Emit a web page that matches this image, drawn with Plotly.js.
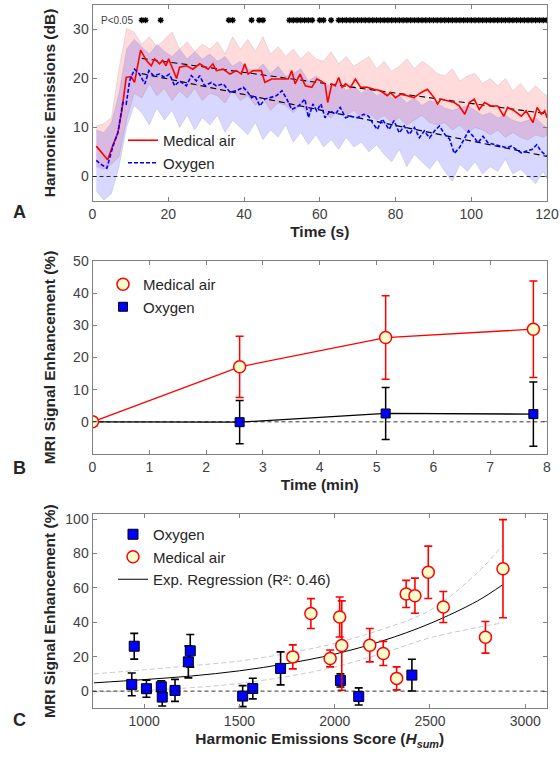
<!DOCTYPE html>
<html><head><meta charset="utf-8">
<script src="https://cdn.plot.ly/plotly-3.0.1.min.js"></script>
<style>html,body{margin:0;padding:0;background:#fff}#chart{width:560px;height:758px}</style>
</head><body><div id="chart"></div>
<script>
// ---------------- Panel A data ----------------
const RED_T = [1,2,3,4,5.3,6.7,7.8,8.9,10.2,11.1,12.7,14.2,15.5,16.4,17.7,18.5,19.4,20.1,22.2,23,24.8,26.5,28.3,30.5,31.8,32.7,34.5,36.3,38,39.3,40.2,41.1,42.4,44.6,45.5,47.3,49.5,51.7,52.6,53.5,54.8,56.2,57.9,59.2,60.3,61.4,62.1,63.2,64.1,65,65.9,66.8,68.1,69.4,70.8,72.5,74.3,76.1,77.8,78.7,80,81.4,83.1,84.9,86.7,88.4,90.2,91.1,92,93.7,95.5,96.8,98.3,99.5,100.8,102.1,103.5,105.2,107,108.6,109.6,111.4,113.2,114.5,116.3,117.4,118.5,119.4,120];
const RED_V = [6.2,5.3,4.3,3.4,6.2,8.9,13.7,20.2,20.4,19.2,25.8,23.7,22.6,24.0,23.0,23.7,22.6,24.0,20.0,22.3,22.6,21.9,23.0,21.9,23.0,21.6,21.9,20.9,21.6,20.9,23.0,20.9,21.6,21.6,19.2,19.9,19.9,19.9,21.6,18.9,20.9,18.5,18.2,19.9,19.5,18.9,15.1,18.9,18.5,20.2,18.2,18.9,18.2,19.9,18.2,18.2,17.8,17.5,16.5,17.1,16.1,16.8,16.5,16.1,17.1,17.8,16.1,14.8,15.8,15.5,15.1,14.4,12.7,15.1,15.8,13.7,15.1,14.4,14.4,12.3,14.1,13.4,12.3,13.4,11.0,14.1,12.7,13.4,12.0];
const BLUE_T = [1,2,3.8,5.4,6.7,8,8.9,9.8,11.1,12.4,13.8,14.9,16.1,17.7,19,20.3,21.7,23,24.8,26.1,27.4,28.3,29.6,31.4,32.7,34.5,36.3,38,39.8,40.7,42,42.9,44.2,45.5,46.9,48.6,50,51.3,52.6,54.4,56.1,57,58.2,59.2,60.3,61.4,62.8,64.1,65.4,66.8,68.1,69.9,71.6,72.9,73.9,75.2,76.5,78.3,79.6,81,82.3,83.6,85,86.3,87.6,89,90.3,91.6,93,94.3,95.5,96.9,98.3,99.3,100.5,101.8,103.1,104.4,106.2,108,109.3,110.6,112,113.3,114.6,116,117.3,118.4,120];
const BLUE_V = [3.3,2.6,1.7,6.2,8.9,15.1,14.8,19.5,21.9,20.9,18.9,21.6,20.6,20.9,20.2,20.9,18.5,19.5,18.5,20.6,19.5,20.6,18.5,19.2,18.5,18.9,17.2,17.5,18.2,17.5,16.1,16.5,14.4,15.8,16.1,16.5,17.5,15.8,13.7,14.4,15.8,12.0,14.8,13.4,14.8,12.0,13.4,12.7,14.1,12.0,12.3,12.0,12.7,12.3,11.0,9.6,11.7,9.6,11.4,8.9,10.3,8.6,10.0,7.9,9.3,7.9,9.3,10.3,8.6,7.6,4.7,5.9,7.9,9.3,8.2,6.9,8.2,6.9,6.5,6.2,5.9,6.2,5.5,4.8,5.2,5.5,6.5,5.2,4.1];
const BAND_T = [1,3,5,7,9,11,13,15,17,19,21,23,25,27,29,31,33,35,37,39,41,43,45,47,49,51,53,55,57,59,61,63,65,67,69,71,73,75,77,79,81,83,85,87,89,91,93,95,97,99,101,103,105,107,109,111,113,115,117,119,120];
const RED_UP = [10.3,10.8,12.0,22.0,30.2,29.5,27.0,28.5,26.5,28.0,29.5,26.0,27.5,25.5,27.0,26.0,27.5,25.0,28.5,26.0,28.0,25.5,28.5,25.0,26.5,24.5,26.0,24.0,25.5,24.0,23.5,25.5,23.0,24.5,22.5,23.5,24.5,22.0,23.5,21.5,22.5,24.0,22.0,23.5,22.5,21.0,20.5,22.0,19.5,20.5,21.0,19.0,20.0,18.5,20.0,17.5,19.0,17.0,18.5,17.0,16.5];
const RED_LO = [2.0,1.5,2.5,4.0,11.5,17.0,16.0,19.0,16.5,18.0,15.5,17.5,16.0,18.0,15.5,17.0,16.5,15.0,17.5,15.5,16.5,14.5,16.0,13.5,15.0,14.5,13.0,15.0,12.5,14.5,13.0,12.0,14.0,12.5,13.5,12.0,13.0,11.5,12.5,11.0,12.0,10.5,11.5,12.5,11.0,10.5,11.0,9.5,10.5,9.0,10.0,9.5,8.5,9.5,8.0,9.0,8.0,7.5,8.5,8.0,8.5];
const BLUE_UP = [9.5,9.0,11.0,17.0,26.0,28.0,26.5,25.0,27.0,25.5,24.5,26.0,24.0,25.5,24.0,25.0,23.5,24.5,22.5,23.5,22.0,21.5,23.0,21.0,22.5,20.5,21.0,22.0,19.5,20.5,19.0,18.5,19.5,17.5,18.5,17.0,18.0,16.5,17.5,16.0,16.5,15.0,16.0,14.5,15.5,15.0,14.0,13.5,14.0,14.5,13.5,12.5,13.0,12.0,12.5,11.5,11.0,11.5,12.0,10.5,10.0];
const BLUE_LO = [-3.0,-4.8,-3.5,2.0,10.0,14.5,13.0,10.5,14.0,11.5,13.5,10.0,12.5,9.5,12.0,10.5,12.5,9.0,11.5,10.0,8.5,11.0,7.5,9.5,8.0,10.5,7.0,9.0,6.5,8.5,6.0,7.5,5.5,8.0,6.0,7.0,5.0,6.5,4.5,3.0,5.5,2.0,4.5,3.0,1.5,3.5,1.0,-1.0,2.5,1.0,3.0,0.5,2.0,1.0,3.5,0.5,1.5,0.0,-1.5,1.0,-0.5];
const TREND_T = [13,120];
const RED_TREND = [24.1,12.8];
const BLUE_TREND = [21.0,4.1];
const STAR_T = [13,14,18,36,37,42,44,45,52,53,54,55,56,57,58,60,61,63,65,66,67,68,69,70,71,72,73,74,75,76,77,78,79,80,81,82,83,84,85,86,87,88,89,90,91,92,93,94,95,96,97,98,99,100,101,102,103,104,105,106,107,108,109,110,111,112,113,114,115,116,117,118,119,120];

// ---------------- Panel B data ----------------
const B_TIME = [0,2.59,5.16,7.76];
const B_AIR = [0,17.1,26.2,28.8];
const B_AIR_ERR = [0,9.5,13.0,15.0];
const B_O2 = [0,-0.1,2.6,2.4];
const B_O2_ERR = [0,6.7,8.1,10.0];

// ---------------- Panel C data ----------------
const C_O2_X = [935,948,1012,1090,1095,1162,1232,1242,1517,1570,1716,2030,2126,2405];
const C_O2_Y = [3.9,26.1,1.4,2.5,-3.5,0.4,17.0,23.4,-2.9,1.5,13.2,6.2,-3.1,9.3];
const C_O2_ERR = [6.6,7.5,5.0,3.5,5.2,6.4,9.3,9.5,6.1,6.0,9.6,3.8,5.0,9.2];
const C_AIR_X = [1780,1875,1976,2026,2037,2184,2255,2325,2375,2421,2491,2570,2791,2883];
const C_AIR_Y = [19.9,45.1,19.0,43.1,26.5,26.7,21.9,7.4,56.5,55.5,69.1,48.9,31.3,71.2];
const C_AIR_ERR = [7.0,8.7,4.9,11.6,26.0,9.7,7.0,6.7,7.9,10.2,15.2,9.0,9.2,28.5];
const REG_X = [736,1000,1250,1500,1750,2000,2250,2500,2750,2882];
const REG_Y = [4.8,6.7,8.8,11.8,16.0,21.5,29.2,39.3,52.5,61.9];
const CI_UP = [10.0,12.4,14.8,17.5,22.0,27.8,36.0,47.0,69.0,85.0];
const CI_LO = [-0.5,0.5,2.0,4.5,8.5,14.0,22.0,31.0,37.0,39.7];

// ---------------- build ----------------
const FONT = '"Liberation Sans", Arial, Helvetica, sans-serif';
const TXT = '#262626';
function bandPoly(t, up, lo){ return {x: t.concat(t.slice().reverse()), y: up.concat(lo.slice().reverse())}; }
const rb = bandPoly(BAND_T, RED_UP, RED_LO);
const bb = bandPoly(BAND_T, BLUE_UP, BLUE_LO);

const traces = [
  {type:'scatter', mode:'lines', x:rb.x, y:rb.y, fill:'toself', fillcolor:'rgba(255,40,40,0.17)', line:{color:'rgba(140,140,140,0.35)', width:0.6}, hoverinfo:'skip', showlegend:false, xaxis:'x', yaxis:'y'},
  {type:'scatter', mode:'lines', x:bb.x, y:bb.y, fill:'toself', fillcolor:'rgba(40,40,255,0.19)', line:{color:'rgba(140,140,140,0.35)', width:0.6}, hoverinfo:'skip', showlegend:false, xaxis:'x', yaxis:'y'},
  {type:'scatter', mode:'lines', x:TREND_T, y:RED_TREND, line:{color:'#000', width:1.1, dash:'6px,4px'}, showlegend:false, xaxis:'x', yaxis:'y'},
  {type:'scatter', mode:'lines', x:TREND_T, y:BLUE_TREND, line:{color:'#000', width:1.1, dash:'6px,4px'}, showlegend:false, xaxis:'x', yaxis:'y'},
  {type:'scatter', mode:'lines', name:'Medical air', x:RED_T, y:RED_V, line:{color:'#ff0000', width:1.6}, legend:'legend', xaxis:'x', yaxis:'y'},
  {type:'scatter', mode:'lines', name:'Oxygen', x:BLUE_T, y:BLUE_V, line:{color:'#0000ff', width:1.6, dash:'4px,2px'}, legend:'legend', xaxis:'x', yaxis:'y'},
  {type:'scatter', mode:'markers', x:STAR_T, y:STAR_T.map(()=>31.9), marker:{symbol:'asterisk-open', size:5, color:'#000', line:{color:'#000', width:1.4}}, showlegend:false, xaxis:'x', yaxis:'y'},

  // Panel B
  {type:'scatter', mode:'lines', x:B_TIME, y:B_O2, line:{color:'#000', width:1.3}, showlegend:false, xaxis:'x2', yaxis:'y2'},
  {type:'scatter', mode:'lines', x:B_TIME, y:B_AIR, line:{color:'#ff0000', width:1.3}, showlegend:false, xaxis:'x2', yaxis:'y2'},
  {type:'scatter', mode:'markers', name:'Oxygen', x:B_TIME, y:B_O2, error_y:{type:'data', array:B_O2_ERR, color:'#000', thickness:1.5, width:4}, marker:{symbol:'square', size:9, color:'#0000ff', line:{color:'#000', width:1}}, legend:'legend2', legendrank:2, xaxis:'x2', yaxis:'y2'},
  {type:'scatter', mode:'markers', name:'Medical air', x:B_TIME, y:B_AIR, error_y:{type:'data', array:B_AIR_ERR, color:'#ff0000', thickness:1.5, width:4}, marker:{symbol:'circle', size:12, color:'#ffffcc', line:{color:'#ff0000', width:1.5}}, legend:'legend2', legendrank:1, xaxis:'x2', yaxis:'y2'},

  // Panel C
  {type:'scatter', mode:'lines', x:REG_X, y:CI_UP, line:{color:'#c8c8c8', width:1, dash:'5px,3px', shape:'spline'}, showlegend:false, xaxis:'x3', yaxis:'y3'},
  {type:'scatter', mode:'lines', x:REG_X, y:CI_LO, line:{color:'#c8c8c8', width:1, dash:'5px,3px', shape:'spline'}, showlegend:false, xaxis:'x3', yaxis:'y3'},
  {type:'scatter', mode:'lines', name:'Exp. Regression (R²: 0.46)', x:REG_X, y:REG_Y, line:{color:'#000', width:1, shape:'spline'}, legend:'legend3', legendrank:3, xaxis:'x3', yaxis:'y3'},
  {type:'scatter', mode:'markers', name:'Oxygen', x:C_O2_X, y:C_O2_Y, error_y:{type:'data', array:C_O2_ERR, color:'#000', thickness:1.6, width:4}, marker:{symbol:'square', size:10, color:'#0000ff', line:{color:'#000', width:1}}, legend:'legend3', legendrank:1, xaxis:'x3', yaxis:'y3'},
  {type:'scatter', mode:'markers', name:'Medical air', x:C_AIR_X, y:C_AIR_Y, error_y:{type:'data', array:C_AIR_ERR, color:'#ff0000', thickness:1.6, width:4}, marker:{symbol:'circle', size:12, color:'#ffffcc', line:{color:'#ff0000', width:1.5}}, legend:'legend3', legendrank:2, xaxis:'x3', yaxis:'y3'}
];

const XD = [92.5/560, 547/560];
function ax(extra){
  return Object.assign({
    showline:true, mirror:'ticks', linecolor:'#808080', linewidth:1,
    ticks:'inside', ticklen:4, tickcolor:'#808080',
    tickfont:{family:FONT, size:14, color:'#404040'},
    showgrid:false, zeroline:false, fixedrange:true
  }, extra);
}
function ttl(text, standoff){ return {text:text, standoff:standoff, font:{family:FONT, size:15.5, color:TXT, weight:'bold'}}; }
function leg(x, yTop){
  return {x:x, y:yTop, xanchor:'left', yanchor:'top', bgcolor:'rgba(0,0,0,0)', borderwidth:0,
          font:{family:FONT, size:15, color:TXT}, tracegroupgap:0, itemwidth:30, traceorder:'normal'};
}
function zeroShape(xr, yr){ return {type:'line', xref:xr+' domain', yref:yr, x0:0, x1:1, y0:0, y1:0, line:{color:'#000', width:0.8, dash:'4px,3px'}, layer:'above'}; }

const layout = {
  width:560, height:758, margin:{l:0,r:0,t:0,b:0},
  paper_bgcolor:'#fff', plot_bgcolor:'rgba(0,0,0,0)',
  font:{family:FONT, color:TXT},
  xaxis: ax({domain:XD, anchor:'y', range:[0,120], tickvals:[0,20,40,60,80,100,120], title:ttl('Time (s)', 5)}),
  yaxis: ax({domain:[1-201/758, 1-5/758], anchor:'x', range:[-5,35], tickvals:[0,10,20,30], title:ttl('Harmonic Emissions (dB)', 13)}),
  xaxis2: ax({domain:XD, anchor:'y2', range:[0,8], tickvals:[0,1,2,3,4,5,6,7,8], title:ttl('Time (min)', 5)}),
  yaxis2: ax({domain:[1-454/758, 1-261/758], anchor:'x2', range:[-10,50], tickvals:[0,10,20,30,40,50], title:ttl('MRI Signal Enhancement (%)', 13)}),
  xaxis3: ax({domain:XD, anchor:'y3', range:[729,3114], tickvals:[1000,1500,2000,2500,3000], title:ttl('Harmonic Emissions Score (<i>H<sub>sum</sub></i>)', 5)}),
  yaxis3: ax({domain:[1-708.3/758, 1-514/758], anchor:'x3', range:[-10,103], tickvals:[0,20,40,60,80,100], title:ttl('MRI Signal Enhancement (%)', 5)}),
  legend: leg(123/560, 1-124/758),
  legend2: leg(103/560, 1-268/758),
  legend3: leg(113/560, 1-518/758),
  shapes:[zeroShape('x','y'), zeroShape('x2','y2'), zeroShape('x3','y3')],
  annotations:[
    {xref:'paper', yref:'paper', x:19/560, y:1-212/758, text:'A', showarrow:false, xanchor:'center', yanchor:'middle', font:{family:FONT, size:18, color:TXT, weight:'bold'}},
    {xref:'paper', yref:'paper', x:19/560, y:1-468/758, text:'B', showarrow:false, xanchor:'center', yanchor:'middle', font:{family:FONT, size:18, color:TXT, weight:'bold'}},
    {xref:'paper', yref:'paper', x:19/560, y:1-720/758, text:'C', showarrow:false, xanchor:'center', yanchor:'middle', font:{family:FONT, size:18, color:TXT, weight:'bold'}},
    {xref:'x', yref:'y', x:1.8, y:31.9, text:'P&lt;0.05', showarrow:false, xanchor:'left', yanchor:'middle', font:{family:FONT, size:10, color:'#404040'}}
  ],
  showlegend:true
};

Plotly.newPlot('chart', traces, layout, {staticPlot:true, displayModeBar:false});
</script>
</body></html>
